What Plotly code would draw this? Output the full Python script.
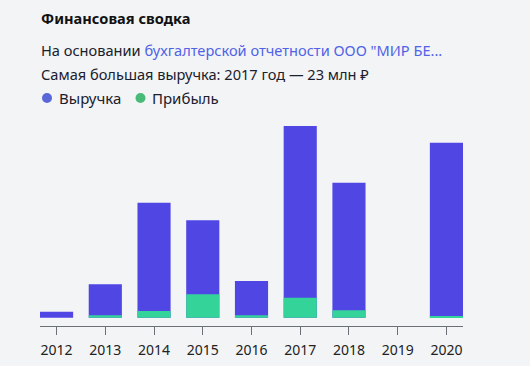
import plotly.graph_objects as go

years = ["2012", "2013", "2014", "2015", "2016", "2017", "2018", "2019", "2020"]
revenue = [0.7, 4.0, 13.8, 11.7, 4.4, 23.0, 16.2, 0.0, 21.0]
profit = [0.0, 0.3, 0.8, 2.8, 0.3, 2.4, 0.9, 0.0, 0.2]

title_text = "Финансовая сводка"
source_prefix = "На основании "
source_link = "бухгалтерской отчетности ООО \"МИР БЕ..."
max_text = "Самая большая выручка: 2017 год — 23 млн ₽"
legend_names = ["Выручка", "Прибыль"]

BG = "#f2f4f6"
BLUE_BAR = "#5046e4"
GREEN_BAR = "#34d399"
BLUE_DOT = "#5a67d8"
GREEN_DOT = "#48bb78"
TEXT = "#1a202c"
AXIS = "#6b6f76"
FONT = "Noto Sans"

W, H = 530, 366
L, R, T, B = 40, 67, 126, 40
pw, ph = W - L - R, H - T - B


def px_x(x):
    return (x - L) / pw


def px_y(y):
    return (H - B - y) / ph


fig = go.Figure()
fig.add_trace(go.Bar(x=years, y=revenue, marker=dict(color=BLUE_BAR, line=dict(width=0)),
                     name=legend_names[0], showlegend=False))
fig.add_trace(go.Bar(x=years, y=profit, marker=dict(color=GREEN_BAR, line=dict(width=0)),
                     name=legend_names[1], showlegend=False))

annotations = [
    dict(text=f"<b>{title_text}</b>", x=px_x(39), y=px_y(18), font=dict(size=14.6, color="#111")),
    dict(text=f"{source_prefix}<span style='color:#5062e6'>{source_link}</span>",
         x=px_x(39), y=px_y(50), font=dict(size=14.6, color=TEXT)),
    dict(text=max_text, x=px_x(39), y=px_y(74), font=dict(size=14.6, color=TEXT)),
    dict(text=legend_names[0], x=px_x(57), y=px_y(98), font=dict(size=15, color=TEXT)),
    dict(text=legend_names[1], x=px_x(150), y=px_y(98), font=dict(size=15, color=TEXT)),
]
for a in annotations:
    a.update(xref="paper", yref="paper", xanchor="left", yanchor="middle", showarrow=False)

shapes = []
for cx, col in [(47, BLUE_DOT), (140.5, GREEN_DOT)]:
    shapes.append(dict(type="circle", xref="paper", yref="paper",
                       x0=px_x(cx - 5), x1=px_x(cx + 5), y0=px_y(98 + 5), y1=px_y(98 - 5),
                       fillcolor=col, line=dict(width=0)))

fig.update_layout(
    width=W, height=H,
    margin=dict(l=L, r=R, t=T, b=B, pad=0, autoexpand=False),
    paper_bgcolor=BG, plot_bgcolor=BG,
    barmode="overlay", bargap=0.32,
    font=dict(family=FONT, size=14, color=TEXT),
    annotations=annotations, shapes=shapes,
    showlegend=False,
)
fig.update_xaxes(type="category", range=[-0.34, 8.34], showgrid=False, zeroline=False,
                 showline=True, linecolor=AXIS, linewidth=1,
                 ticks="outside", ticklen=8, tickcolor=AXIS, tickwidth=1,
                 ticklabelstandoff=3, automargin=False,
                 tickfont=dict(size=14, color="#222"), fixedrange=True)
fig.update_yaxes(range=[-1, 23], visible=False, showgrid=False, zeroline=False, fixedrange=True)

fig.write_html("out.html", config={"displayModeBar": False},
               post_script="document.body.style.margin='0';document.body.style.background='%s';" % BG)
